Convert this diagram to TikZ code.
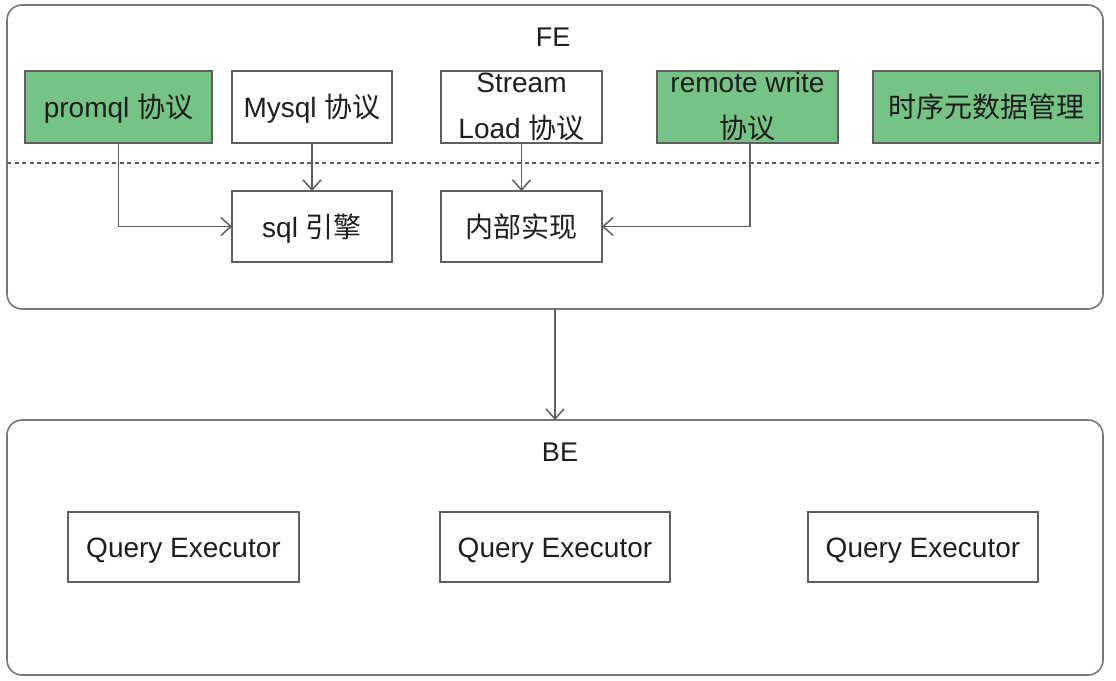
\documentclass[tikz,border=0pt]{standalone}
\usepackage{fontspec}
\setmainfont{Liberation Sans}
\newfontfamily\cjk{Noto Sans CJK SC}
\usetikzlibrary{positioning, arrows.meta}
\definecolor{boxgreen}{RGB}{117,195,133}
\definecolor{edgegray}{RGB}{95,95,95}
\definecolor{txtgray}{RGB}{30,30,30}

\begin{document}
\begin{tikzpicture}[x=1pt, y=-1pt, line width=1.6pt
  ]
% Box and arrow styles
\tikzstyle{layer} = [draw=edgegray!85, fill=white, rounded corners=15pt, outer sep=0pt, line width=1.6pt]
\tikzstyle{part} = [draw=edgegray, fill=white, outer sep=0pt, inner ysep=0pt, align=center, minimum height=72pt, text=txtgray, font=\fontsize{28}{46}\selectfont, line width=1.8pt]
\tikzstyle{oneline} = [text height=23pt, text depth=2pt]
\tikzstyle{greenpart} = [part, fill=boxgreen]
\tikzstyle{arrow} = [draw=edgegray, line width=1.5pt, -{Straight Barb[length=10pt,width=18pt]}]

\useasboundingbox (0,0) rectangle (1116,680);

% Layers
\node[layer, minimum width=1096pt, minimum height=304pt] (fe) at (555,157) {};
\node[layer, minimum width=1096pt, minimum height=255pt] (be) at (555,547.5) {};
\node[text=txtgray, font=\fontsize{27}{32}\selectfont] (fetitle) at (553,37) {FE};
\node[text=txtgray, font=\fontsize{27}{32}\selectfont] (betitle) at (560,452) {BE};

% Protocols
\node[greenpart, oneline, minimum width=187pt] (promql) at (118.5,107) {promql {\cjk 协议}};
\node[part, oneline, minimum width=160pt] (mysql) at (312,107) {Mysql {\cjk 协议}};
\node[part, minimum width=161pt] (stream) at (521.5,107) {Stream\\Load {\cjk 协议}};
\node[greenpart, minimum width=181pt] (remote) at (747.5,107) {remote write\\{\cjk 协议}};
\node[greenpart, oneline, minimum width=227pt] (meta) at (986.5,107) {\cjk 时序元数据管理};

\draw[draw=edgegray, line width=1.3pt, dash pattern=on 4pt off 3.5pt] (fe.west |- 0,163) -- (meta.east |- 0,163);

% Engines
\node[part, oneline, minimum width=160pt, minimum height=71pt, below=48pt of mysql] (sql) {sql {\cjk 引擎}};
\node[part, oneline, minimum width=161pt, minimum height=71pt, below=48pt of stream] (impl) {\cjk 内部实现};

% Executors
\node[part, oneline, minimum width=231pt, minimum height=70pt] (qe1) at (183.5,547) {Query Executor};
\node[part, oneline, minimum width=230pt, minimum height=70pt] (qe2) at (555,547) {Query Executor};
\node[part, oneline, minimum width=230pt, minimum height=70pt] (qe3) at (923,547) {Query Executor};

% Arrows
\draw[arrow] (promql.south) |- (sql.west);
\draw[arrow] (mysql.south) -- (sql.north);
\draw[arrow] (stream.south) -- (impl.north);
\draw[arrow] ([xshift=2.5pt]remote.south) |- (impl.east);
\draw[arrow] (fe.south) -- (be.north);
\end{tikzpicture}
\end{document}
